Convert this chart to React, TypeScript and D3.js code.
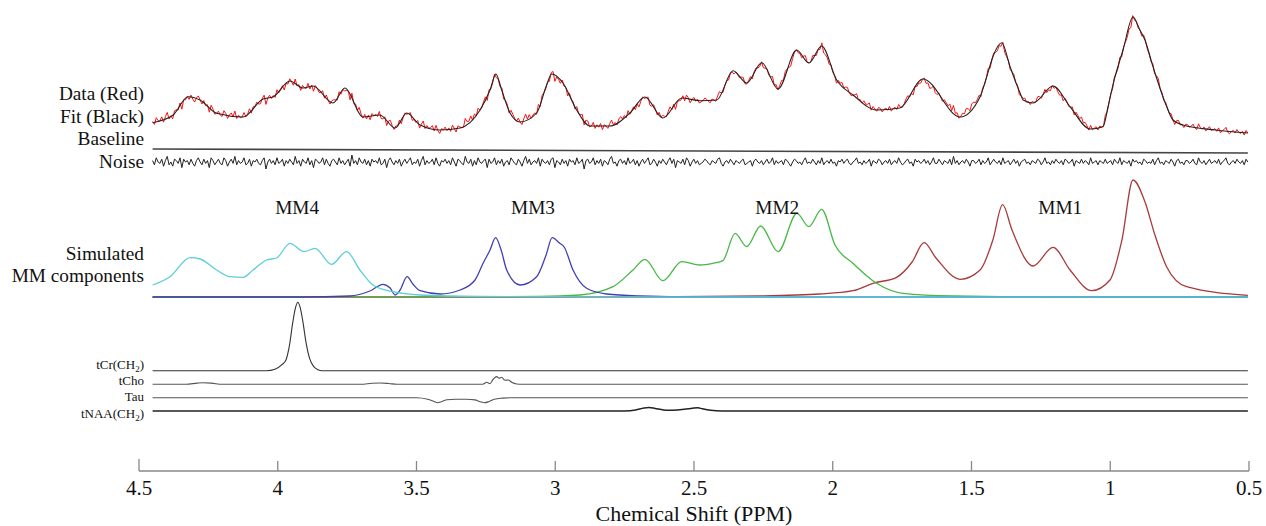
import React from 'react';
import * as d3 from 'd3';

const W = 1266;
const H = 526;

// Axis ticks
const ppmTicks = [4.5, 4, 3.5, 3, 2.5, 2, 1.5, 1, 0.5];
const tickLabels = ['4.5', '4', '3.5', '3', '2.5', '2', '1.5', '1', '0.5'];

// Fit (black) of the measured spectrum
const fitPpm = [4.451, 4.377, 4.323, 4.28, 4.22, 4.125, 4.053, 4.017, 3.956, 3.909, 3.873, 3.801, 3.758, 3.693, 3.632, 3.577, 3.535, 3.487, 3.415, 3.343, 3.271, 3.235, 3.214, 3.193, 3.163, 3.127, 3.067, 3.031, 3.013, 2.972, 2.923, 2.875, 2.803, 2.731, 2.677, 2.612, 2.544, 2.478, 2.418, 2.359, 2.31, 2.256, 2.197, 2.13, 2.086, 2.04, 1.986, 1.927, 1.842, 1.758, 1.675, 1.541, 1.469, 1.445, 1.423, 1.391, 1.361, 1.325, 1.314, 1.278, 1.206, 1.145, 1.073, 1.026, 1.008, 0.989, 0.954, 0.918, 0.893, 0.875, 0.846, 0.796, 0.774, 0.738, 0.62, 0.504];
const fitVal = [12.3, 20, 38.3, 35, 21.7, 18, 36, 38, 54, 47, 49, 32, 47, 18, 20, 7, 22, 10, 5, 7, 25, 45, 61, 45, 22, 13, 22, 50, 61, 52, 25, 9, 9, 22, 38, 17, 37, 34.3, 35, 64.3, 52, 72.3, 46, 85, 72, 89, 55, 40, 25, 27, 56, 18, 38.3, 58.3, 78.3, 92.3, 68.3, 42, 35, 32, 49, 28.3, 6, 8.3, 28, 51.7, 85, 118, 105, 95, 68.3, 28, 15, 10, 5, 2];

// Residual noise (data - fit)
const noiseVals = [
  1, -2, 3, 0, -1, 2, -3, 1, 4, -2, 0, -3, 2, 1, -1, 3, -4, 2, 0, 1,
  -2, 2, -1, -3, 1, 3, 0, -2, 2, -1, 1, -4, 3, 1, -2, 0, 2, -1, -2, 3,
  1, -3, 0, 2, -1, 4, -2, 1, -1, 0, 3, -2, -1, 2, -3, 1, 0, 2, -1, -2,
  1, 3, -5, 0, 2, -1, 1, -2, 3, -1, 0, 2, -3, 1, -1, 2, 0, -2, 4, -1,
  1, -3, 2, 0, -1, 3, -2, 1, -4, 2, 1, -1, 0, 3, -2, 2, -1, -3, 1, 2,
  0, -2, 3, -1, 1, -2, 0, 2, -3, 5, -1, 1, -2, 3, 0, -1, 2, -2, 1, -3,
  2, 0, 1, -1, 3, -2, -1, 2, -4, 1, 3, 0, -2, 1, -1, 2, -3, 0, 2, -1,
  1, 3, -2, 0, -1, 2, -3, 1, 4, -2, 1, -1, 0, 2, -2, 3, -1, -3, 1, 0,
  2, -1, 1, -2, 3, 0, -3, 2, 1, -1, -2, 4, 0, -1, 2, -3, 1, -2, 3, 0,
  -1, 1, 2, -4, 2, -1, 0, 3, -2, 1, -1, 2, -3, 0, 1, -2, 3, 1, -1, -2,
  2, 0, -3, 1, 4, -1, 2, -2, 0, 1, -1, 3, -3, 2, 0, -1, 1, -2, 2, 3,
  -4, 1, 0, -2, 2, -1, 1, -3, 2, 0, 1, -2, 3, -1, 0, 2, -5, 1, 2, -1,
  0, 3, -2, 1, -1, 2, -3, 1, 0, -2, 2, 4, -1, 0, -3, 1, 2, -1, 1, -2,
  3, -1, 0, 2, -2, 1, -3, 0, 2, -1, 1, 3, -2, -1, 2, 0, -3, 1, -1, 2,
  0, -2, 1, 3, -1, 2, -4, 1, 0, -1, 2, -2, 3, 1, -3, 0, 2, -1, 1, -2,
  -1, 0, 2, 1, -1, -2, 1, 0, -1, 2, 3, -1, -3, 0, 1, -1, 2, 0, -2, 1,
  0, -1, 1, 2, -2, -1, 0, 1, -3, 1, 2, 0, -1, 1, -2, 0, 2, -1, 0, 3,
  -2, 1, -1, 0, 1, -2, 2, 1, -1, -3, 0, 2, 1, -1, 0, -2, 1, 3, -1, 0,
  -1, 2, 0, -2, 1, -1, 3, -2, 0, 1, -1, 2, -1, 0, -3, 1, 0, 2, -1, 1,
  2, -1, -2, 0, 1, 3, -1, 0, -2, 1, -1, 0, 2, -3, 1, 0, -1, 2, 1, -2,
  0, 1, -1, 2, -2, 0, 1, -1, 3, 0, -2, -1, 1, 2, -1, 0, -3, 2, 0, 1,
  -1, 0, 2, -1, 1, -2, 0, 3, -1, -1, 2, 0, -2, 1, 0, -1, 2, -2, 4, -1,
  1, -2, 0, 1, -1, 2, 0, -3, 1, 1, -1, 0, 2, -2, 1, -1, 0, 3, -2, 0,
  2, 0, -1, 1, -2, 3, -1, 0, 1, -2, 0, 2, -1, 1, -3, 0, 1, 2, -1, 0,
  -2, 1, 0, -1, 2, 1, -2, 0, 3, -1, 0, -2, 1, -1, 2, 0, -1, 1, -2, 2,
  1, -1, 0, 2, -3, 1, 0, -1, 2, -1, 1, 0, -2, 3, -1, 0, 1, -2, 1, 0,
  -1, 2, -1, 0, 1, -2, 2, 0, -1, 3, -2, 1, 0, -1, 1, -3, 2, 0, 1, -1,
  0, -2, 2, 1, -1, 0, -1, 2, -2, 1, 3, -1, 0, -2, 1, 0, -1, 2, 0, -3,
  1, 2, -1, 0, -2, 1, 1, -1, 0, 2, -1, -2, 3, 0, -1, 1, -2, 0, 2, -1,
  0, 1, -1, 2, -2, 0, 1, 3, -1, -2, 0, 1, -1, 2, 0, -1, 1, -2, 2, 0,
];

// Baseline
const baselinePpm = [4.451, 0.504];
const baselineVal = [4, 0];

// Simulated MM components
const mm4Ppm = [4.451, 4.388, 4.316, 4.28, 4.22, 4.172, 4.125, 4.089, 4.04, 4.004, 3.956, 3.905, 3.866, 3.806, 3.752, 3.704, 3.657, 3.585, 3.487, 3.271, 2.839, 0.504];
const mm4Val = [12, 20.3, 39.3, 38, 27, 20.3, 19.7, 27, 37, 39, 53.7, 45.3, 48.7, 32.7, 45.3, 27, 12, 5.3, 2, 0.5, 0, 0];

const mm3Ppm = [4.451, 3.92, 3.74, 3.668, 3.621, 3.595, 3.577, 3.559, 3.534, 3.513, 3.487, 3.415, 3.343, 3.289, 3.26, 3.235, 3.215, 3.195, 3.175, 3.127, 3.067, 3.033, 3.011, 2.985, 2.968, 2.936, 2.887, 2.815, 2.695, 2.48, 0.504];
const mm3Val = [0, 0, 1, 6, 12.7, 9, 2, 7, 20.3, 13, 6.3, 3, 7, 17, 33.7, 47, 59.3, 47, 27, 12, 20.3, 42, 59.3, 54, 50, 27, 8.7, 3, 1, 0, 0];

const mm2Ppm = [4.451, 3.055, 2.911, 2.792, 2.72, 2.677, 2.612, 2.544, 2.478, 2.432, 2.396, 2.352, 2.31, 2.26, 2.197, 2.129, 2.086, 2.04, 1.992, 1.927, 1.842, 1.747, 1.567, 1.217, 0.504];
const mm2Val = [0, 0.5, 2, 10.3, 27, 37.7, 16.3, 35.3, 32, 33.7, 36.3, 63.7, 50.3, 71, 45.3, 83.7, 70.3, 87.7, 52, 33.7, 13.7, 3.7, 1, 0, 0];

const mm1Ppm = [4.451, 2.66, 2.262, 2.046, 1.927, 1.855, 1.77, 1.714, 1.671, 1.628, 1.541, 1.469, 1.423, 1.388, 1.354, 1.278, 1.206, 1.145, 1.067, 1.001, 0.958, 0.918, 0.875, 0.839, 0.797, 0.725, 0.504];
const mm1Val = [0, 0, 1, 3, 6.3, 13.7, 19.7, 35, 54.3, 39, 17.7, 27, 57, 92.3, 67, 31, 49.7, 27, 6.3, 17, 57, 117, 95.3, 62, 30.3, 10.3, 1.7];

const mmLabels = ['MM4', 'MM3', 'MM2', 'MM1'];
const mmLabelPpm = [3.93, 3.08, 2.2, 1.18];

// Metabolites
const tCrPpm = [4.451, 4.04, 4.01, 3.985, 3.97, 3.958, 3.946, 3.936, 3.928, 3.92, 3.91, 3.898, 3.885, 3.87, 3.855, 3.84, 0.504];
const tCrVal = [0, 0, 1.5, 6, 11, 25, 48, 63, 68.5, 64, 50, 28, 12, 4, 1, 0, 0];

const tChoPpm = [4.451, 4.33, 4.29, 4.27, 4.24, 4.2, 3.7, 3.66, 3.63, 3.6, 3.57, 3.265, 3.259, 3.247, 3.235, 3.223, 3.211, 3.202, 3.193, 3.181, 3.169, 3.157, 3.139, 3.12, 0.504];
const tChoVal = [0, 0, 1.2, 1.5, 1.2, 0, 0, 1, 1.3, 0.8, 0, 0, 0.3, 2, 0.7, 5.3, 7.7, 6, 7, 4, 4.3, 2, 0.3, 0, 0];

const tauPpm = [4.451, 3.5, 3.46, 3.435, 3.425, 3.41, 3.39, 3.36, 3.32, 3.29, 3.27, 3.255, 3.24, 3.22, 3.19, 3.16, 0.504];
const tauVal = [0, 0, -1.5, -4, -5, -4, -2, -1.5, -1.6, -2.2, -4, -5, -4, -1.5, -0.4, 0, 0];

const tNAAPpm = [4.451, 2.75, 2.71, 2.68, 2.662, 2.64, 2.61, 2.594, 2.56, 2.52, 2.5, 2.486, 2.47, 2.44, 2.4, 0.504];
const tNAAVal = [0, 0, 1, 3, 3.5, 2.5, 1, 0.7, 1, 2.2, 3, 3.2, 2.2, 0.7, 0, 0];

const FONT = "'Liberation Serif'";

type Pt = [number, number];
const zip = (a: number[], b: number[]): Pt[] => a.map((v, i) => [v, b[i]]);

export default function App() {
  const x = d3.scaleLinear().domain([4.5, 0.5]).range([139, 1249]);
  const yTop = d3.scaleLinear().domain([0, 120]).range([135, 15]);
  const yBase = d3.scaleLinear().domain([0, 4]).range([153, 149]);
  const yNoise = d3.scaleLinear().domain([-5, 5]).range([169, 155]);
  const yMM = d3.scaleLinear().domain([0, 120]).range([297, 177]);
  const rowScale = (base: number) => d3.scaleLinear().domain([0, 70]).range([base, base - 70]);
  const yCr = rowScale(370.7);
  const yCho = rowScale(384.3);
  const yTau = rowScale(397.7);
  const yNAA = rowScale(411);

  const lineWith = (ys: d3.ScaleLinear<number, number>, curve: d3.CurveFactory = d3.curveMonotoneX) =>
    d3.line<Pt>().x(d => x(d[0])).y(d => ys(d[1])).curve(curve);

  // residual sample positions spread evenly over the spectral window
  const sampleAt = d3.scaleLinear().domain([0, noiseVals.length - 1]).range([4.451, 0.504]);
  const fitAt = d3.scaleLinear().domain(fitPpm).range(fitVal);
  const dataPts: Pt[] = noiseVals.map((n, i) => {
    const p = sampleAt(i);
    return [p, fitAt(p) + n * 1.2];
  });
  const noisePts: Pt[] = noiseVals.map((n, i) => [sampleAt(i), n]);

  const mmSeries = [
    { pts: zip(mm1Ppm, mm1Val), color: '#a83a3a' },
    { pts: zip(mm2Ppm, mm2Val), color: '#46b846' },
    { pts: zip(mm3Ppm, mm3Val), color: '#4040b4' },
    { pts: zip(mm4Ppm, mm4Val), color: '#5acfd8' },
  ];

  const mets = [
    { pts: zip(tCrPpm, tCrVal), ys: yCr, w: 1.1, c: '#333' },
    { pts: zip(tChoPpm, tChoVal), ys: yCho, w: 1.1, c: '#555' },
    { pts: zip(tauPpm, tauVal), ys: yTau, w: 1.1, c: '#555' },
    { pts: zip(tNAAPpm, tNAAVal), ys: yNAA, w: 1.5, c: '#222' },
  ];

  const leftLabelX = 144;
  const txt = { fontFamily: FONT };

  return (
    <svg width={W} height={H} style={{ position: 'absolute', left: 0, top: 0, background: '#fff', fontFamily: FONT }}>
      <rect x={0} y={0} width={W} height={H} fill="#fff" />
      {/* top panel labels */}
      <g fontSize={19.3} fill="#111" textAnchor="end" style={txt}>
        <text x={leftLabelX} y={99.5}>Data (Red)</text>
        <text x={leftLabelX} y={122.5}>Fit (Black)</text>
        <text x={leftLabelX} y={145}>Baseline</text>
        <text x={leftLabelX} y={168}>Noise</text>
        <text x={leftLabelX} y={259.5}>Simulated</text>
        <text x={leftLabelX} y={282}>MM components</text>
      </g>
      {/* data and fit */}
      <path d={lineWith(yTop, d3.curveLinear)(dataPts) || ''} fill="none" stroke="#ff1010" strokeWidth={1} />
      <path d={lineWith(yTop)(zip(fitPpm, fitVal)) || ''} fill="none" stroke="#222" strokeWidth={1.1} />
      {/* baseline */}
      <path d={lineWith(yBase, d3.curveLinear)(zip(baselinePpm, baselineVal)) || ''} fill="none" stroke="#444" strokeWidth={1.6} />
      {/* noise */}
      <path d={lineWith(yNoise, d3.curveLinear)(noisePts) || ''} fill="none" stroke="#222" strokeWidth={1} />

      {/* MM components */}
      {mmSeries.map((s, i) => (
        <path key={i} d={lineWith(yMM)(s.pts) || ''} fill="none" stroke={s.color} strokeWidth={1.3} />
      ))}
      <g fontSize={19.3} fill="#111" textAnchor="middle" style={txt}>
        {mmLabels.map((l, i) => (
          <text key={l} x={x(mmLabelPpm[i])} y={213.5}>{l}</text>
        ))}
      </g>

      {/* metabolites */}
      {mets.map((m, i) => (
        <path key={i} d={lineWith(m.ys)(m.pts) || ''} fill="none" stroke={m.c} strokeWidth={m.w} />
      ))}
      <g fontSize={13} fill="#111" textAnchor="end" style={txt}>
        <text x={leftLabelX} y={368.5}>tCr(CH<tspan fontSize={9} dy={3}>2</tspan><tspan dy={-3}>)</tspan></text>
        <text x={leftLabelX} y={384.5}>tCho</text>
        <text x={leftLabelX} y={401}>Tau</text>
        <text x={leftLabelX} y={417.5}>tNAA(CH<tspan fontSize={9} dy={3}>2</tspan><tspan dy={-3}>)</tspan></text>
      </g>

      {/* axis */}
      <line x1={x(4.5)} x2={x(0.5)} y1={471} y2={471} stroke="#888" strokeWidth={1.5} />
      <g style={txt}>
        {ppmTicks.map((t, i) => (
          <g key={t}>
            <line x1={x(t)} x2={x(t)} y1={471} y2={i === 0 ? 459 : 461} stroke="#888" strokeWidth={1.3} />
            <text x={x(t)} y={495} fontSize={21} textAnchor="middle" fill="#111">{tickLabels[i]}</text>
          </g>
        ))}
        <text x={x(2.5)} y={520.5} fontSize={22} textAnchor="middle" fill="#111">Chemical Shift (PPM)</text>
      </g>
    </svg>
  );
}
